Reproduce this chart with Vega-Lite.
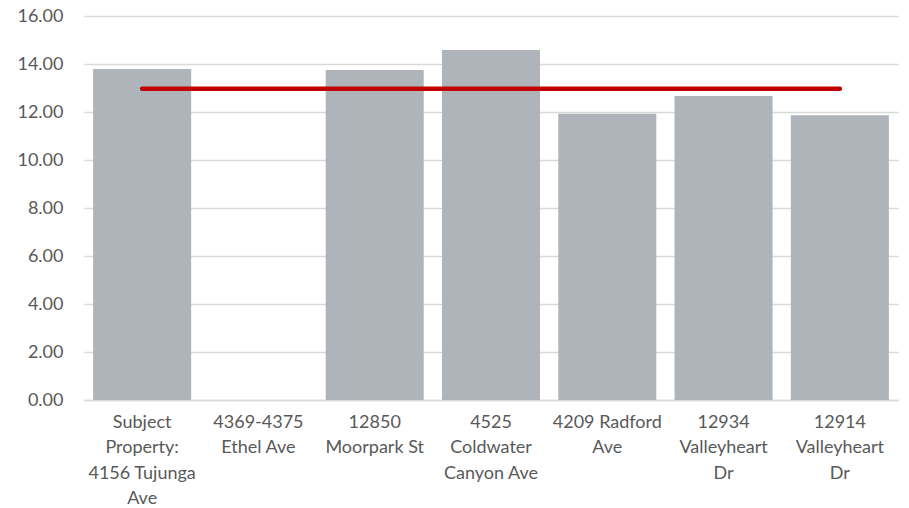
{
  "$schema": "https://vega.github.io/schema/vega-lite/v6.json",
  "width": 814,
  "height": 384,
  "autosize": {"type": "none"},
  "padding": {"left": 84, "top": 16, "right": 11, "bottom": 108},
  "background": "white",
  "config": {
    "view": {"stroke": null},
    "font": "Lato"
  },
  "data": {
    "values": [
      {"property": "Subject|Property:|4156 Tujunga|Ave", "value": 13.79, "avg": 12.97},
      {"property": "4369-4375|Ethel Ave", "value": 0, "avg": 12.97},
      {"property": "12850|Moorpark St", "value": 13.75, "avg": 12.97},
      {"property": "4525|Coldwater|Canyon Ave", "value": 14.58, "avg": 12.97},
      {"property": "4209 Radford|Ave", "value": 11.93, "avg": 12.97},
      {"property": "12934|Valleyheart|Dr", "value": 12.67, "avg": 12.97},
      {"property": "12914|Valleyheart|Dr", "value": 11.86, "avg": 12.97}
    ]
  },
  "encoding": {
    "x": {
      "field": "property",
      "type": "nominal",
      "sort": null,
      "scale": {"paddingInner": 0.157, "paddingOuter": 0.0785},
      "axis": {
        "title": null,
        "labelAngle": 0,
        "labelExpr": "split(datum.label, '|')",
        "labelFont": "Lato",
        "labelFontSize": 18,
        "labelLineHeight": 25.5,
        "labelColor": "#595959",
        "labelPadding": 13,
        "labelLimit": 200,
        "ticks": false,
        "domainColor": "#D9D9D9",
        "domainWidth": 1.5
      }
    }
  },
  "layer": [
    {
      "mark": {"type": "bar", "color": "#AEB4BA"},
      "encoding": {
        "y": {
          "field": "value",
          "type": "quantitative",
          "scale": {"domain": [0, 16], "nice": false},
          "axis": {
            "title": null,
            "values": [0, 2, 4, 6, 8, 10, 12, 14, 16],
            "format": ".2f",
            "labelFont": "Lato",
            "labelFontSize": 18,
            "labelColor": "#595959",
            "labelPadding": 21,
            "ticks": false,
            "domain": false,
            "gridColor": "#D9D9D9",
            "gridWidth": 1.5
          }
        }
      }
    },
    {
      "mark": {"type": "line", "color": "#C00000", "strokeWidth": 4.5, "strokeCap": "round"},
      "encoding": {
        "y": {"field": "avg", "type": "quantitative"}
      }
    }
  ]
}
